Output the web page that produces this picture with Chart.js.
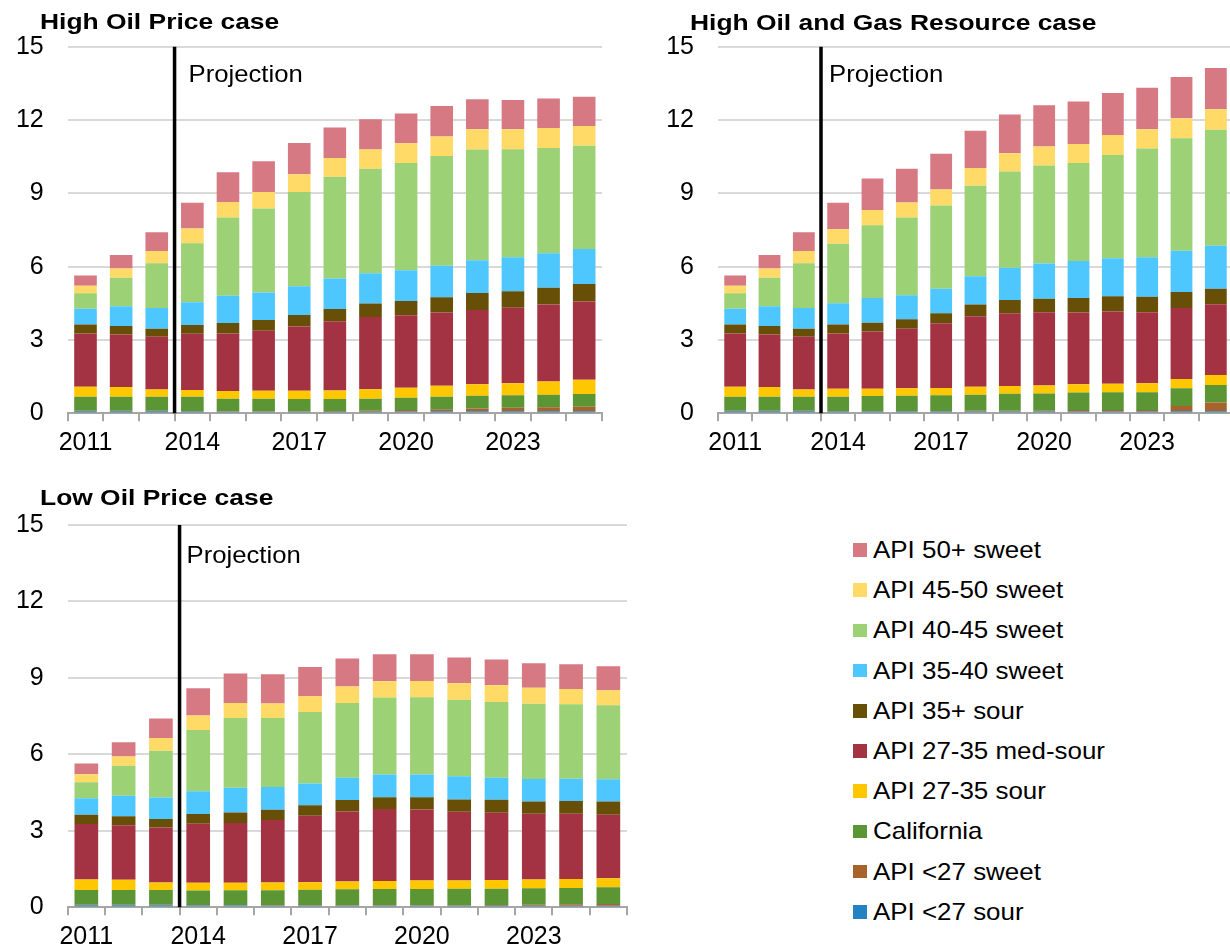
<!DOCTYPE html>
<html><head><meta charset="utf-8">
<script src="https://cdn.jsdelivr.net/npm/chart.js@4"></script>
<style>
html,body{margin:0;padding:0;background:#fff;overflow:hidden;width:1230px;height:951px;position:relative;}
canvas{position:absolute;display:block;}
#legend{position:absolute;left:0;top:0;font-family:"Liberation Sans",Arial,sans-serif;font-size:24px;color:#000;}
.row{position:absolute;height:40px;display:flex;align-items:center;white-space:nowrap;}
.sw{width:14.5px;height:13.5px;margin-right:5.5px;flex:none;}
.lt{display:inline-block;transform:scaleX(1.08);transform-origin:left center;}
</style></head><body>
<canvas id="c1" width="612" height="460" style="left:0;top:0"></canvas>
<canvas id="c2" width="593" height="460" style="left:650px;top:0"></canvas>
<canvas id="c3" width="637" height="471" style="left:0;top:480px"></canvas>
<div id="legend"></div>
<script>
const FONT = '"Liberation Sans", Arial, sans-serif';
const years = [2011,2012,2013,2014,2015,2016,2017,2018,2019,2020,2021,2022,2023,2024,2025];
// series listed bottom of stack -> top
const seriesNames = ['API <27 sour','API <27 sweet','California','API 27-35 sour','API 27-35 med-sour','API 35+ sour','API 35-40 sweet','API 40-45 sweet','API 45-50 sweet','API 50+ sweet'];
const seriesColors = ['#2382c4','#a8632a','#5c9634','#ffc700','#a33343','#684f07','#4dc7fd','#9cd175','#ffda66','#d67983'];
const yTicks = [0,3,6,9,12,15];
const panelTitles = ['High Oil Price case','High Oil and Gas Resource case','Low Oil Price case'];

// High Oil Price case (million barrels per day)
const hop_sour27  = [0.08,0.08,0.08,0.07,0.06,0.06,0.06,0.06,0.06,0.07,0.08,0.08,0.08,0.08,0.08];
const hop_sweet27 = [0.02,0.02,0.02,0.02,0.02,0.02,0.02,0.03,0.04,0.06,0.09,0.12,0.15,0.17,0.19];
const hop_cal     = [0.58,0.58,0.58,0.59,0.52,0.52,0.51,0.50,0.50,0.51,0.51,0.52,0.51,0.51,0.52];
const hop_sour2735= [0.41,0.40,0.29,0.27,0.31,0.32,0.33,0.34,0.38,0.41,0.45,0.47,0.49,0.54,0.58];
const hop_med     = [2.18,2.14,2.16,2.31,2.36,2.46,2.63,2.84,2.96,2.96,2.99,3.04,3.09,3.15,3.20];
const hop_sour35  = [0.36,0.35,0.33,0.35,0.42,0.44,0.47,0.50,0.55,0.59,0.63,0.69,0.67,0.69,0.72];
const hop_sw3540  = [0.65,0.81,0.85,0.93,1.12,1.12,1.18,1.25,1.24,1.25,1.29,1.34,1.39,1.41,1.43];
const hop_sw4045  = [0.63,1.17,1.83,2.42,3.20,3.44,3.85,4.16,4.28,4.39,4.49,4.53,4.42,4.31,4.23];
const hop_sw4550  = [0.31,0.37,0.50,0.60,0.64,0.67,0.73,0.77,0.78,0.81,0.80,0.83,0.82,0.81,0.81];
const hop_sw50    = [0.42,0.56,0.77,1.06,1.21,1.26,1.28,1.24,1.24,1.22,1.24,1.23,1.20,1.21,1.19];

// High Oil and Gas Resource case
const hog_sour27  = [0.08,0.08,0.08,0.07,0.07,0.07,0.07,0.07,0.07,0.07,0.07,0.07,0.07,0.08,0.08];
const hog_sweet27 = [0.02,0.02,0.02,0.02,0.02,0.02,0.02,0.03,0.03,0.03,0.06,0.07,0.07,0.22,0.36];
const hog_cal     = [0.58,0.58,0.58,0.59,0.62,0.63,0.65,0.66,0.70,0.71,0.72,0.72,0.72,0.72,0.72];
const hog_sour2735= [0.41,0.40,0.29,0.32,0.29,0.30,0.30,0.33,0.32,0.33,0.34,0.35,0.37,0.38,0.41];
const hog_med     = [2.18,2.14,2.16,2.27,2.35,2.44,2.64,2.88,2.97,2.99,2.93,2.96,2.90,2.91,2.89];
const hog_sour35  = [0.36,0.35,0.33,0.36,0.36,0.39,0.41,0.48,0.55,0.56,0.60,0.62,0.64,0.65,0.64];
const hog_sw3540  = [0.65,0.81,0.85,0.87,1.01,0.98,1.01,1.16,1.32,1.44,1.51,1.55,1.61,1.69,1.76];
const hog_sw4045  = [0.63,1.17,1.83,2.44,2.97,3.18,3.40,3.70,3.93,4.01,4.01,4.23,4.45,4.60,4.74];
const hog_sw4550  = [0.31,0.37,0.50,0.59,0.63,0.62,0.66,0.73,0.75,0.78,0.78,0.82,0.79,0.82,0.84];
const hog_sw50    = [0.42,0.56,0.77,1.09,1.29,1.38,1.46,1.52,1.59,1.68,1.74,1.72,1.70,1.69,1.69];

// Low Oil Price case
const lop_sour27  = [0.08,0.08,0.08,0.07,0.07,0.06,0.06,0.06,0.06,0.06,0.06,0.06,0.06,0.06,0.06];
const lop_sweet27 = [0.02,0.02,0.02,0.02,0.01,0.02,0.02,0.02,0.02,0.02,0.02,0.03,0.04,0.06,0.07];
const lop_cal     = [0.58,0.58,0.58,0.57,0.59,0.59,0.61,0.63,0.64,0.64,0.65,0.64,0.65,0.64,0.66];
const lop_sour2735= [0.41,0.40,0.29,0.30,0.29,0.30,0.29,0.30,0.31,0.33,0.32,0.34,0.34,0.35,0.35];
const lop_med     = [2.18,2.14,2.16,2.32,2.35,2.46,2.61,2.75,2.83,2.79,2.70,2.64,2.58,2.56,2.49];
const lop_sour35  = [0.36,0.35,0.33,0.38,0.41,0.40,0.41,0.45,0.46,0.48,0.48,0.51,0.48,0.50,0.52];
const lop_sw3540  = [0.65,0.81,0.85,0.89,0.97,0.89,0.86,0.87,0.89,0.89,0.91,0.86,0.88,0.87,0.87];
const lop_sw4045  = [0.63,1.17,1.83,2.41,2.74,2.71,2.80,2.94,3.02,3.03,3.00,2.98,2.96,2.93,2.91];
const lop_sw4550  = [0.31,0.37,0.50,0.57,0.59,0.57,0.62,0.64,0.64,0.64,0.65,0.65,0.62,0.60,0.59];
const lop_sw50    = [0.42,0.56,0.77,1.06,1.15,1.14,1.15,1.10,1.06,1.05,1.01,1.01,0.97,0.97,0.94];

const projectionAfterIndex = 2; // last historical year: 2013

const decoPlugin = {
  id: 'panelDeco',
  afterDatasetsDraw(chart, args, o) {
    const ctx = chart.ctx, xs = chart.scales.x, a = chart.chartArea;
    const lx = (xs.getPixelForValue(projectionAfterIndex) + xs.getPixelForValue(projectionAfterIndex + 1)) / 2;
    ctx.save();
    ctx.strokeStyle = '#000'; ctx.lineWidth = 3.5;
    ctx.beginPath(); ctx.moveTo(lx, a.top); ctx.lineTo(lx, a.bottom); ctx.stroke();
    ctx.fillStyle = '#000'; ctx.textAlign = 'left'; ctx.textBaseline = 'alphabetic';
    ctx.font = '24px ' + FONT;
    ctx.translate(lx + o.projDx, o.projY); ctx.scale(1.07, 1);
    ctx.fillText('Projection', 0, 0);
    ctx.restore();
    ctx.save();
    ctx.fillStyle = '#000'; ctx.textAlign = 'left'; ctx.textBaseline = 'alphabetic';
    ctx.font = 'bold 22px ' + FONT;
    ctx.translate(o.titleX, o.titleY); ctx.scale(1.2, 1);
    ctx.fillText(o.title, 0, 0);
    ctx.restore();
  }
};

function makeChart(id, series, opt) {
  const datasets = series.map((d, i) => ({
    label: seriesNames[i], data: d, backgroundColor: seriesColors[i],
    borderWidth: 0, barPercentage: 0.635, categoryPercentage: 1
  }));
  return new Chart(document.getElementById(id), {
    type: 'bar',
    data: { labels: years.map(String), datasets },
    options: {
      responsive: false, animation: false, devicePixelRatio: 1,
      layout: { padding: { top: opt.padTop, right: opt.padRight, left: 0, bottom: 0 } },
      plugins: {
        legend: { display: false }, tooltip: { enabled: false }, title: { display: false },
        panelDeco: { title: opt.title, titleX: 40, titleY: opt.titleY, projDx: opt.projDx, projY: opt.projY }
      },
      scales: {
        x: {
          stacked: true,
          grid: { offset: true, drawOnChartArea: false, drawTicks: true, tickLength: 8, color: '#a6a6a6', lineWidth: 2 },
          border: { display: true, color: '#a6a6a6', width: 2 },
          ticks: { autoSkip: false, maxRotation: 0, minRotation: 0, padding: 7, color: '#000',
                   font: { family: FONT, size: 25 },
                   callback: (v, i) => (i % 3 === 0 ? String(years[i]) : '') },
          afterFit: s => { s.height = opt.xH; }
        },
        y: {
          stacked: true, min: yTicks[0], max: yTicks[yTicks.length - 1],
          afterBuildTicks: s => { s.ticks = yTicks.map(v => ({ value: v })); },
          ticks: { padding: 24, color: '#000', font: { family: FONT, size: 25 } },
          grid: { color: '#d9d9d9', lineWidth: 2, drawTicks: false },
          border: { display: false },
          afterFit: s => { s.width = opt.yW; }
        }
      }
    },
    plugins: [decoPlugin]
  });
}

makeChart('c1', [hop_sour27, hop_sweet27, hop_cal, hop_sour2735, hop_med, hop_sour35, hop_sw3540, hop_sw4045, hop_sw4550, hop_sw50],
  { title: panelTitles[0], titleY: 29, padTop: 46.7, padRight: 10, xH: 46.7, yW: 67.7, projDx: 14, projY: 82 });
makeChart('c2', [hog_sour27, hog_sweet27, hog_cal, hog_sour2735, hog_med, hog_sour35, hog_sw3540, hog_sw4045, hog_sw4550, hog_sw50],
  { title: panelTitles[1], titleY: 30, padTop: 46.7, padRight: 10, xH: 46.7, yW: 68, projDx: 8, projY: 82 });
makeChart('c3', [lop_sour27, lop_sweet27, lop_cal, lop_sour2735, lop_med, lop_sour35, lop_sw3540, lop_sw4045, lop_sw4550, lop_sw50],
  { title: panelTitles[2], titleY: 25, padTop: 45, padRight: 10, xH: 43.7, yW: 67.7, projDx: 7, projY: 83 });

// legend (top row = top of stack)
const legend = document.getElementById('legend');
for (let k = 0; k < seriesNames.length; k++) {
  const i = seriesNames.length - 1 - k;
  const row = document.createElement('div');
  row.className = 'row';
  row.style.left = '852.7px';
  row.style.top = (550 + 40.2 * k - 20) + 'px';
  const sw = document.createElement('div'); sw.className = 'sw'; sw.style.background = seriesColors[i];
  const t = document.createElement('span'); t.className = 'lt'; t.textContent = seriesNames[i];
  row.appendChild(sw); row.appendChild(t);
  legend.appendChild(row);
}
</script>
</body></html>
